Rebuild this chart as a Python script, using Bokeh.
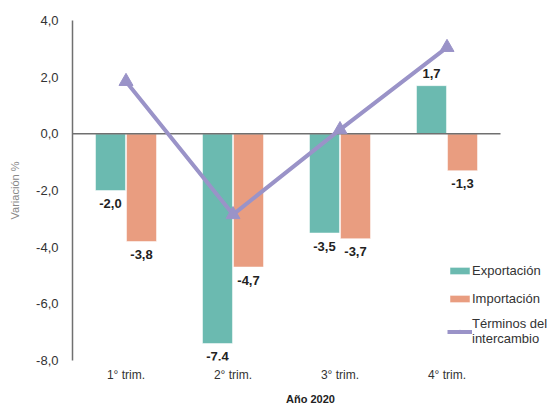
from bokeh.plotting import figure
from bokeh.models import (ColumnDataSource, Range1d, FixedTicker,
                          Legend, LegendItem, CustomJSTickFormatter)
from bokeh.transform import dodge
from bokeh.core.properties import value
from bokeh.embed import file_html
from bokeh.resources import INLINE

categories = ["1° trim.", "2° trim.", "3° trim.", "4° trim."]
exportacion = [-2.0, -7.4, -3.5, 1.7]
importacion = [-3.8, -4.7, -3.7, -1.3]
terminos = [1.85, -2.85, 0.15, 3.05]
y_ticks = [4, 2, 0, -2, -4, -6, -8]


def fmt(v):
    return f"{v:.1f}".replace(".", ",")


def off(v):
    return 13 if v < 0 else -12


xpos = [i + 0.5 for i in range(len(categories))]

src = ColumnDataSource(dict(
    x=xpos,
    cat=categories,
    exp=exportacion,
    imp=importacion,
    ter=terminos,
    exp_lbl=[fmt(v) for v in exportacion],
    imp_lbl=[fmt(v) for v in importacion],
    exp_off=[off(v) for v in exportacion],
    imp_off=[off(v) for v in importacion],
))

FONT = "Liberation Sans"
TEAL = "#6bbab0"
SALMON = "#e99d80"
PURPLE = "#9a93c8"

W, H = 548, 407
LEFT = 72
px_per_cat = 107.0
x_end = (W - LEFT) / px_per_cat

p = figure(x_range=Range1d(0, x_end), y_range=Range1d(-8, 4), width=W, height=H,
           output_backend="svg", toolbar_location=None,
           min_border_left=LEFT, min_border_right=0,
           min_border_top=20, min_border_bottom=45)
p.outline_line_color = None
p.xgrid.visible = False
p.ygrid.visible = False

r_exp = p.vbar(x=dodge("x", -0.145), top="exp", bottom=0, width=0.28,
               source=src, fill_color=TEAL, line_color="white", line_width=0.5)
r_imp = p.vbar(x=dodge("x", 0.145), top="imp", bottom=0, width=0.28,
               source=src, fill_color=SALMON, line_color="white", line_width=0.5)

# zero baseline across the category area
p.segment(x0=[0], x1=[len(categories)], y0=[0], y1=[0], line_color="#707070", line_width=1.5)

r_line = p.line(x="x", y="ter", source=src, line_color=PURPLE, line_width=4)
r_pts = p.scatter(x="x", y="ter", source=src, marker="triangle", size=14,
                  fill_color=PURPLE, line_color=PURPLE)

p.text(x=dodge("x", -0.145), y="exp", text="exp_lbl", y_offset="exp_off",
       source=src, text_align="center", text_baseline="middle",
       text_font=value(FONT), text_font_size="13px", text_font_style="bold", text_color="#222222")
p.text(x=dodge("x", 0.145), y="imp", text="imp_lbl", y_offset="imp_off",
       source=src, text_align="center", text_baseline="middle",
       text_font=value(FONT), text_font_size="13px", text_font_style="bold", text_color="#222222")

yax = p.yaxis[0]
yax.ticker = FixedTicker(ticks=y_ticks)
yax.formatter = CustomJSTickFormatter(code="return tick.toFixed(1).replace('.', ',');")
yax.axis_line_color = "#707070"
yax.axis_line_width = 1.5
yax.major_tick_line_color = None
yax.minor_tick_line_color = None
yax.major_tick_out = 0
yax.major_label_standoff = 14
yax.major_label_text_font = FONT
yax.major_label_text_font_size = "13px"
yax.major_label_text_color = "#333333"
yax.axis_label = "Variación %"
yax.axis_label_text_font = FONT
yax.axis_label_text_font_size = "11px"
yax.axis_label_text_font_style = "normal"
yax.axis_label_text_color = "#888888"
yax.axis_label_standoff = 12

xax = p.xaxis[0]
xax.ticker = FixedTicker(ticks=xpos)
xax.formatter = CustomJSTickFormatter(args=dict(cats=categories),
                                      code="return cats[Math.floor(tick)];")
xax.axis_line_color = None
xax.major_tick_line_color = None
xax.minor_tick_line_color = None
xax.major_tick_out = 0
xax.major_label_standoff = 7
xax.major_label_text_font = FONT
xax.major_label_text_font_size = "12px"
xax.major_label_text_color = "#333333"
xax.axis_label = "Año 2020"
xax.axis_label_text_font = FONT
xax.axis_label_text_font_size = "11px"
xax.axis_label_text_font_style = "bold"
xax.axis_label_text_color = "#222222"
xax.axis_label_standoff = 8

legend = Legend(items=[
    LegendItem(label="Exportación", renderers=[r_exp]),
    LegendItem(label="Importación", renderers=[r_imp]),
    LegendItem(label="Términos del\nintercambio", renderers=[r_line, r_pts]),
], location=(375, 14))
legend.background_fill_alpha = 0
legend.border_line_color = None
legend.padding = 0
legend.margin = 0
legend.spacing = 8
legend.glyph_width = 25
legend.glyph_height = 9
legend.label_height = 20
legend.label_standoff = 0
legend.label_text_font = FONT
legend.label_text_font_size = "13px"
legend.label_text_line_height = 1.3
legend.label_text_color = "#333333"
p.add_layout(legend, "center")

open("out.html", "w").write(file_html(p, INLINE))
